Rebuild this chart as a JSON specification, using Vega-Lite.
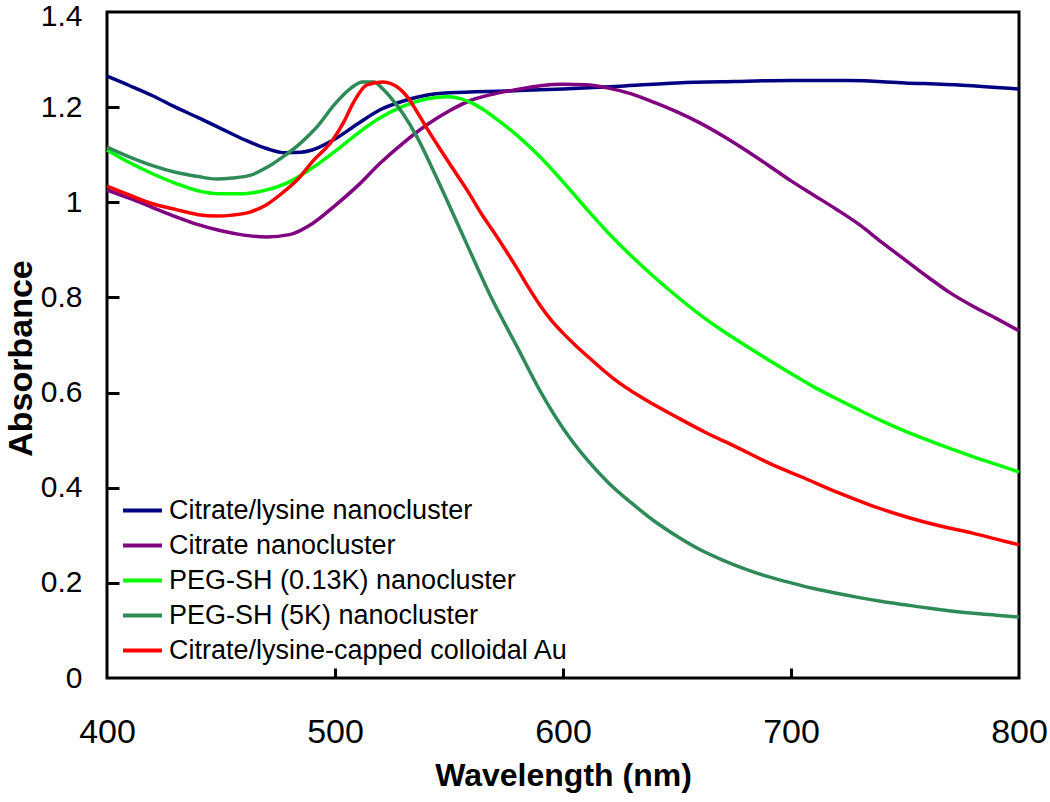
{
  "$schema": "https://vega.github.io/schema/vega-lite/v6.json",
  "autosize": "none",
  "padding": {"left": 107, "top": 12, "right": 31, "bottom": 124},
  "width": 912,
  "height": 666,
  "background": "white",
  "config": {
    "font": "Liberation Sans",
    "view": {"stroke": "black", "strokeWidth": 3},
    "axis": {"grid": false, "domain": false, "tickColor": "black", "tickWidth": 3, "labelColor": "black", "titleColor": "black", "labelFont": "Liberation Sans", "titleFont": "Liberation Sans"}
  },
  "data": {"values": [
    {"s": "Citrate/lysine nanocluster", "wl": 400, "a": 1.265},
    {"s": "Citrate/lysine nanocluster", "wl": 410, "a": 1.245},
    {"s": "Citrate/lysine nanocluster", "wl": 420, "a": 1.224},
    {"s": "Citrate/lysine nanocluster", "wl": 430, "a": 1.200},
    {"s": "Citrate/lysine nanocluster", "wl": 440, "a": 1.178},
    {"s": "Citrate/lysine nanocluster", "wl": 450, "a": 1.155},
    {"s": "Citrate/lysine nanocluster", "wl": 460, "a": 1.132},
    {"s": "Citrate/lysine nanocluster", "wl": 470, "a": 1.113},
    {"s": "Citrate/lysine nanocluster", "wl": 478, "a": 1.104},
    {"s": "Citrate/lysine nanocluster", "wl": 485, "a": 1.105},
    {"s": "Citrate/lysine nanocluster", "wl": 490, "a": 1.110},
    {"s": "Citrate/lysine nanocluster", "wl": 500, "a": 1.133},
    {"s": "Citrate/lysine nanocluster", "wl": 510, "a": 1.165},
    {"s": "Citrate/lysine nanocluster", "wl": 520, "a": 1.195},
    {"s": "Citrate/lysine nanocluster", "wl": 530, "a": 1.213},
    {"s": "Citrate/lysine nanocluster", "wl": 540, "a": 1.225},
    {"s": "Citrate/lysine nanocluster", "wl": 550, "a": 1.230},
    {"s": "Citrate/lysine nanocluster", "wl": 575, "a": 1.234},
    {"s": "Citrate/lysine nanocluster", "wl": 600, "a": 1.238},
    {"s": "Citrate/lysine nanocluster", "wl": 625, "a": 1.244},
    {"s": "Citrate/lysine nanocluster", "wl": 650, "a": 1.251},
    {"s": "Citrate/lysine nanocluster", "wl": 675, "a": 1.254},
    {"s": "Citrate/lysine nanocluster", "wl": 700, "a": 1.256},
    {"s": "Citrate/lysine nanocluster", "wl": 725, "a": 1.256},
    {"s": "Citrate/lysine nanocluster", "wl": 750, "a": 1.251},
    {"s": "Citrate/lysine nanocluster", "wl": 775, "a": 1.246},
    {"s": "Citrate/lysine nanocluster", "wl": 800, "a": 1.238},

    {"s": "Citrate nanocluster", "wl": 400, "a": 1.026},
    {"s": "Citrate nanocluster", "wl": 410, "a": 1.008},
    {"s": "Citrate nanocluster", "wl": 420, "a": 0.989},
    {"s": "Citrate nanocluster", "wl": 430, "a": 0.970},
    {"s": "Citrate nanocluster", "wl": 440, "a": 0.953},
    {"s": "Citrate nanocluster", "wl": 450, "a": 0.940},
    {"s": "Citrate nanocluster", "wl": 460, "a": 0.931},
    {"s": "Citrate nanocluster", "wl": 470, "a": 0.927},
    {"s": "Citrate nanocluster", "wl": 480, "a": 0.932},
    {"s": "Citrate nanocluster", "wl": 490, "a": 0.955},
    {"s": "Citrate nanocluster", "wl": 500, "a": 0.993},
    {"s": "Citrate nanocluster", "wl": 510, "a": 1.035},
    {"s": "Citrate nanocluster", "wl": 520, "a": 1.083},
    {"s": "Citrate nanocluster", "wl": 530, "a": 1.125},
    {"s": "Citrate nanocluster", "wl": 540, "a": 1.162},
    {"s": "Citrate nanocluster", "wl": 550, "a": 1.192},
    {"s": "Citrate nanocluster", "wl": 560, "a": 1.215},
    {"s": "Citrate nanocluster", "wl": 570, "a": 1.228},
    {"s": "Citrate nanocluster", "wl": 580, "a": 1.237},
    {"s": "Citrate nanocluster", "wl": 590, "a": 1.245},
    {"s": "Citrate nanocluster", "wl": 600, "a": 1.248},
    {"s": "Citrate nanocluster", "wl": 610, "a": 1.247},
    {"s": "Citrate nanocluster", "wl": 620, "a": 1.240},
    {"s": "Citrate nanocluster", "wl": 630, "a": 1.228},
    {"s": "Citrate nanocluster", "wl": 640, "a": 1.210},
    {"s": "Citrate nanocluster", "wl": 650, "a": 1.190},
    {"s": "Citrate nanocluster", "wl": 660, "a": 1.167},
    {"s": "Citrate nanocluster", "wl": 670, "a": 1.140},
    {"s": "Citrate nanocluster", "wl": 680, "a": 1.110},
    {"s": "Citrate nanocluster", "wl": 690, "a": 1.078},
    {"s": "Citrate nanocluster", "wl": 700, "a": 1.045},
    {"s": "Citrate nanocluster", "wl": 710, "a": 1.015},
    {"s": "Citrate nanocluster", "wl": 720, "a": 0.985},
    {"s": "Citrate nanocluster", "wl": 730, "a": 0.953},
    {"s": "Citrate nanocluster", "wl": 740, "a": 0.915},
    {"s": "Citrate nanocluster", "wl": 750, "a": 0.879},
    {"s": "Citrate nanocluster", "wl": 760, "a": 0.843},
    {"s": "Citrate nanocluster", "wl": 770, "a": 0.809},
    {"s": "Citrate nanocluster", "wl": 780, "a": 0.781},
    {"s": "Citrate nanocluster", "wl": 790, "a": 0.756},
    {"s": "Citrate nanocluster", "wl": 800, "a": 0.730},

    {"s": "PEG-SH (0.13K) nanocluster", "wl": 400, "a": 1.110},
    {"s": "PEG-SH (0.13K) nanocluster", "wl": 410, "a": 1.083},
    {"s": "PEG-SH (0.13K) nanocluster", "wl": 420, "a": 1.060},
    {"s": "PEG-SH (0.13K) nanocluster", "wl": 430, "a": 1.040},
    {"s": "PEG-SH (0.13K) nanocluster", "wl": 440, "a": 1.024},
    {"s": "PEG-SH (0.13K) nanocluster", "wl": 450, "a": 1.018},
    {"s": "PEG-SH (0.13K) nanocluster", "wl": 460, "a": 1.018},
    {"s": "PEG-SH (0.13K) nanocluster", "wl": 470, "a": 1.026},
    {"s": "PEG-SH (0.13K) nanocluster", "wl": 480, "a": 1.043},
    {"s": "PEG-SH (0.13K) nanocluster", "wl": 490, "a": 1.072},
    {"s": "PEG-SH (0.13K) nanocluster", "wl": 500, "a": 1.107},
    {"s": "PEG-SH (0.13K) nanocluster", "wl": 510, "a": 1.145},
    {"s": "PEG-SH (0.13K) nanocluster", "wl": 520, "a": 1.178},
    {"s": "PEG-SH (0.13K) nanocluster", "wl": 530, "a": 1.202},
    {"s": "PEG-SH (0.13K) nanocluster", "wl": 540, "a": 1.217},
    {"s": "PEG-SH (0.13K) nanocluster", "wl": 550, "a": 1.222},
    {"s": "PEG-SH (0.13K) nanocluster", "wl": 555, "a": 1.218},
    {"s": "PEG-SH (0.13K) nanocluster", "wl": 560, "a": 1.209},
    {"s": "PEG-SH (0.13K) nanocluster", "wl": 565, "a": 1.195},
    {"s": "PEG-SH (0.13K) nanocluster", "wl": 570, "a": 1.178},
    {"s": "PEG-SH (0.13K) nanocluster", "wl": 580, "a": 1.140},
    {"s": "PEG-SH (0.13K) nanocluster", "wl": 590, "a": 1.095},
    {"s": "PEG-SH (0.13K) nanocluster", "wl": 600, "a": 1.043},
    {"s": "PEG-SH (0.13K) nanocluster", "wl": 610, "a": 0.988},
    {"s": "PEG-SH (0.13K) nanocluster", "wl": 620, "a": 0.935},
    {"s": "PEG-SH (0.13K) nanocluster", "wl": 630, "a": 0.887},
    {"s": "PEG-SH (0.13K) nanocluster", "wl": 640, "a": 0.843},
    {"s": "PEG-SH (0.13K) nanocluster", "wl": 650, "a": 0.802},
    {"s": "PEG-SH (0.13K) nanocluster", "wl": 660, "a": 0.764},
    {"s": "PEG-SH (0.13K) nanocluster", "wl": 670, "a": 0.730},
    {"s": "PEG-SH (0.13K) nanocluster", "wl": 680, "a": 0.699},
    {"s": "PEG-SH (0.13K) nanocluster", "wl": 690, "a": 0.669},
    {"s": "PEG-SH (0.13K) nanocluster", "wl": 700, "a": 0.640},
    {"s": "PEG-SH (0.13K) nanocluster", "wl": 710, "a": 0.612},
    {"s": "PEG-SH (0.13K) nanocluster", "wl": 720, "a": 0.587},
    {"s": "PEG-SH (0.13K) nanocluster", "wl": 730, "a": 0.563},
    {"s": "PEG-SH (0.13K) nanocluster", "wl": 740, "a": 0.540},
    {"s": "PEG-SH (0.13K) nanocluster", "wl": 750, "a": 0.519},
    {"s": "PEG-SH (0.13K) nanocluster", "wl": 760, "a": 0.500},
    {"s": "PEG-SH (0.13K) nanocluster", "wl": 770, "a": 0.482},
    {"s": "PEG-SH (0.13K) nanocluster", "wl": 780, "a": 0.465},
    {"s": "PEG-SH (0.13K) nanocluster", "wl": 790, "a": 0.449},
    {"s": "PEG-SH (0.13K) nanocluster", "wl": 800, "a": 0.433},

    {"s": "PEG-SH (5K) nanocluster", "wl": 400, "a": 1.116},
    {"s": "PEG-SH (5K) nanocluster", "wl": 410, "a": 1.095},
    {"s": "PEG-SH (5K) nanocluster", "wl": 420, "a": 1.077},
    {"s": "PEG-SH (5K) nanocluster", "wl": 430, "a": 1.063},
    {"s": "PEG-SH (5K) nanocluster", "wl": 440, "a": 1.054},
    {"s": "PEG-SH (5K) nanocluster", "wl": 448, "a": 1.049},
    {"s": "PEG-SH (5K) nanocluster", "wl": 455, "a": 1.051},
    {"s": "PEG-SH (5K) nanocluster", "wl": 463, "a": 1.057},
    {"s": "PEG-SH (5K) nanocluster", "wl": 470, "a": 1.073},
    {"s": "PEG-SH (5K) nanocluster", "wl": 477, "a": 1.095},
    {"s": "PEG-SH (5K) nanocluster", "wl": 485, "a": 1.125},
    {"s": "PEG-SH (5K) nanocluster", "wl": 492, "a": 1.158},
    {"s": "PEG-SH (5K) nanocluster", "wl": 500, "a": 1.207},
    {"s": "PEG-SH (5K) nanocluster", "wl": 507, "a": 1.240},
    {"s": "PEG-SH (5K) nanocluster", "wl": 512, "a": 1.253},
    {"s": "PEG-SH (5K) nanocluster", "wl": 517, "a": 1.253},
    {"s": "PEG-SH (5K) nanocluster", "wl": 521, "a": 1.238},
    {"s": "PEG-SH (5K) nanocluster", "wl": 525, "a": 1.217},
    {"s": "PEG-SH (5K) nanocluster", "wl": 530, "a": 1.185},
    {"s": "PEG-SH (5K) nanocluster", "wl": 536, "a": 1.137},
    {"s": "PEG-SH (5K) nanocluster", "wl": 543, "a": 1.068},
    {"s": "PEG-SH (5K) nanocluster", "wl": 550, "a": 0.995},
    {"s": "PEG-SH (5K) nanocluster", "wl": 558, "a": 0.910},
    {"s": "PEG-SH (5K) nanocluster", "wl": 568, "a": 0.805},
    {"s": "PEG-SH (5K) nanocluster", "wl": 580, "a": 0.695},
    {"s": "PEG-SH (5K) nanocluster", "wl": 590, "a": 0.603},
    {"s": "PEG-SH (5K) nanocluster", "wl": 600, "a": 0.525},
    {"s": "PEG-SH (5K) nanocluster", "wl": 610, "a": 0.462},
    {"s": "PEG-SH (5K) nanocluster", "wl": 620, "a": 0.410},
    {"s": "PEG-SH (5K) nanocluster", "wl": 630, "a": 0.368},
    {"s": "PEG-SH (5K) nanocluster", "wl": 640, "a": 0.330},
    {"s": "PEG-SH (5K) nanocluster", "wl": 650, "a": 0.298},
    {"s": "PEG-SH (5K) nanocluster", "wl": 660, "a": 0.270},
    {"s": "PEG-SH (5K) nanocluster", "wl": 670, "a": 0.248},
    {"s": "PEG-SH (5K) nanocluster", "wl": 680, "a": 0.229},
    {"s": "PEG-SH (5K) nanocluster", "wl": 690, "a": 0.213},
    {"s": "PEG-SH (5K) nanocluster", "wl": 700, "a": 0.200},
    {"s": "PEG-SH (5K) nanocluster", "wl": 710, "a": 0.188},
    {"s": "PEG-SH (5K) nanocluster", "wl": 720, "a": 0.178},
    {"s": "PEG-SH (5K) nanocluster", "wl": 730, "a": 0.169},
    {"s": "PEG-SH (5K) nanocluster", "wl": 740, "a": 0.161},
    {"s": "PEG-SH (5K) nanocluster", "wl": 750, "a": 0.154},
    {"s": "PEG-SH (5K) nanocluster", "wl": 760, "a": 0.147},
    {"s": "PEG-SH (5K) nanocluster", "wl": 770, "a": 0.141},
    {"s": "PEG-SH (5K) nanocluster", "wl": 780, "a": 0.136},
    {"s": "PEG-SH (5K) nanocluster", "wl": 790, "a": 0.132},
    {"s": "PEG-SH (5K) nanocluster", "wl": 800, "a": 0.128},

    {"s": "Citrate/lysine-capped colloidal Au", "wl": 400, "a": 1.034},
    {"s": "Citrate/lysine-capped colloidal Au", "wl": 410, "a": 1.015},
    {"s": "Citrate/lysine-capped colloidal Au", "wl": 420, "a": 0.997},
    {"s": "Citrate/lysine-capped colloidal Au", "wl": 430, "a": 0.985},
    {"s": "Citrate/lysine-capped colloidal Au", "wl": 440, "a": 0.974},
    {"s": "Citrate/lysine-capped colloidal Au", "wl": 448, "a": 0.971},
    {"s": "Citrate/lysine-capped colloidal Au", "wl": 455, "a": 0.973},
    {"s": "Citrate/lysine-capped colloidal Au", "wl": 463, "a": 0.980},
    {"s": "Citrate/lysine-capped colloidal Au", "wl": 470, "a": 0.995},
    {"s": "Citrate/lysine-capped colloidal Au", "wl": 477, "a": 1.020},
    {"s": "Citrate/lysine-capped colloidal Au", "wl": 484, "a": 1.050},
    {"s": "Citrate/lysine-capped colloidal Au", "wl": 490, "a": 1.085},
    {"s": "Citrate/lysine-capped colloidal Au", "wl": 499, "a": 1.131},
    {"s": "Citrate/lysine-capped colloidal Au", "wl": 504, "a": 1.170},
    {"s": "Citrate/lysine-capped colloidal Au", "wl": 508, "a": 1.209},
    {"s": "Citrate/lysine-capped colloidal Au", "wl": 514, "a": 1.247},
    {"s": "Citrate/lysine-capped colloidal Au", "wl": 521, "a": 1.253},
    {"s": "Citrate/lysine-capped colloidal Au", "wl": 528, "a": 1.240},
    {"s": "Citrate/lysine-capped colloidal Au", "wl": 532, "a": 1.220},
    {"s": "Citrate/lysine-capped colloidal Au", "wl": 536, "a": 1.190},
    {"s": "Citrate/lysine-capped colloidal Au", "wl": 540, "a": 1.158},
    {"s": "Citrate/lysine-capped colloidal Au", "wl": 545, "a": 1.120},
    {"s": "Citrate/lysine-capped colloidal Au", "wl": 550, "a": 1.083},
    {"s": "Citrate/lysine-capped colloidal Au", "wl": 558, "a": 1.025},
    {"s": "Citrate/lysine-capped colloidal Au", "wl": 565, "a": 0.970},
    {"s": "Citrate/lysine-capped colloidal Au", "wl": 570, "a": 0.935},
    {"s": "Citrate/lysine-capped colloidal Au", "wl": 575, "a": 0.898},
    {"s": "Citrate/lysine-capped colloidal Au", "wl": 580, "a": 0.860},
    {"s": "Citrate/lysine-capped colloidal Au", "wl": 585, "a": 0.820},
    {"s": "Citrate/lysine-capped colloidal Au", "wl": 590, "a": 0.783},
    {"s": "Citrate/lysine-capped colloidal Au", "wl": 595, "a": 0.751},
    {"s": "Citrate/lysine-capped colloidal Au", "wl": 600, "a": 0.725},
    {"s": "Citrate/lysine-capped colloidal Au", "wl": 606, "a": 0.697},
    {"s": "Citrate/lysine-capped colloidal Au", "wl": 612, "a": 0.671},
    {"s": "Citrate/lysine-capped colloidal Au", "wl": 622, "a": 0.630},
    {"s": "Citrate/lysine-capped colloidal Au", "wl": 634, "a": 0.591},
    {"s": "Citrate/lysine-capped colloidal Au", "wl": 650, "a": 0.548},
    {"s": "Citrate/lysine-capped colloidal Au", "wl": 663, "a": 0.515},
    {"s": "Citrate/lysine-capped colloidal Au", "wl": 675, "a": 0.488},
    {"s": "Citrate/lysine-capped colloidal Au", "wl": 692, "a": 0.448},
    {"s": "Citrate/lysine-capped colloidal Au", "wl": 705, "a": 0.422},
    {"s": "Citrate/lysine-capped colloidal Au", "wl": 721, "a": 0.389},
    {"s": "Citrate/lysine-capped colloidal Au", "wl": 735, "a": 0.363},
    {"s": "Citrate/lysine-capped colloidal Au", "wl": 751, "a": 0.338},
    {"s": "Citrate/lysine-capped colloidal Au", "wl": 765, "a": 0.320},
    {"s": "Citrate/lysine-capped colloidal Au", "wl": 780, "a": 0.304},
    {"s": "Citrate/lysine-capped colloidal Au", "wl": 790, "a": 0.292},
    {"s": "Citrate/lysine-capped colloidal Au", "wl": 800, "a": 0.280}
  ]},
  "layer": [
    {
      "mark": {"type": "line", "strokeWidth": 3.5, "interpolate": "monotone"},
      "encoding": {
        "x": {
          "field": "wl", "type": "quantitative",
          "scale": {"domain": [400, 800], "nice": false},
          "axis": {"orient": "bottom", "title": "Wavelength (nm)", "values": [400, 500, 600, 700, 800], "ticks": false, "tickSize": 0, "labelFontSize": 34, "labelPadding": 37, "titleFontSize": 32, "titleFontWeight": "bold", "titlePadding": 11, "labelFlush": false}
        },
        "y": {
          "field": "a", "type": "quantitative",
          "scale": {"domain": [0, 1.4], "nice": false},
          "axis": {"orient": "left", "title": "Absorbance", "values": [0, 0.2, 0.4, 0.6, 0.8, 1, 1.2, 1.4], "format": ".1~f", "ticks": false, "tickSize": 0, "labelFontSize": 30, "labelPadding": 25, "labelOffset": {"expr": "datum.value >= 1.4 ? 4 : 0"}, "titleFontSize": 34, "titleFontWeight": "bold", "titlePadding": 2, "titleY": 346, "labelFlush": false}
        },
        "color": {
          "field": "s", "type": "nominal",
          "scale": {
            "domain": ["Citrate/lysine nanocluster", "Citrate nanocluster", "PEG-SH (0.13K) nanocluster", "PEG-SH (5K) nanocluster", "Citrate/lysine-capped colloidal Au"],
            "range": ["#000080", "#800080", "#00ff00", "#2e8b57", "#ff0000"]
          },
          "legend": {
            "title": null, "orient": "none", "legendX": 14, "legendY": 477, "padding": 0,
            "symbolType": "stroke", "symbolStrokeWidth": 4, "symbolSize": 1521,
            "labelFontSize": 27, "labelColor": "black", "labelOffset": 5, "rowPadding": 0, "labelLimit": 600
          }
        }
      }
    },
    {
      "mark": {"type": "line", "opacity": 0},
      "encoding": {
        "x": {
          "field": "wl", "type": "quantitative",
          "axis": {"orient": "bottom", "title": null, "labels": false, "values": [500, 600, 700], "ticks": true, "tickSize": 10, "offset": -10}
        },
        "y": {
          "field": "a", "type": "quantitative",
          "axis": {"orient": "left", "title": null, "labels": false, "values": [0.2, 0.4, 0.6, 0.8, 1, 1.2], "ticks": true, "tickSize": 12, "offset": -12}
        },
        "detail": {"field": "s"}
      }
    }
  ],
  "resolve": {"axis": {"x": "independent", "y": "independent"}}
}
